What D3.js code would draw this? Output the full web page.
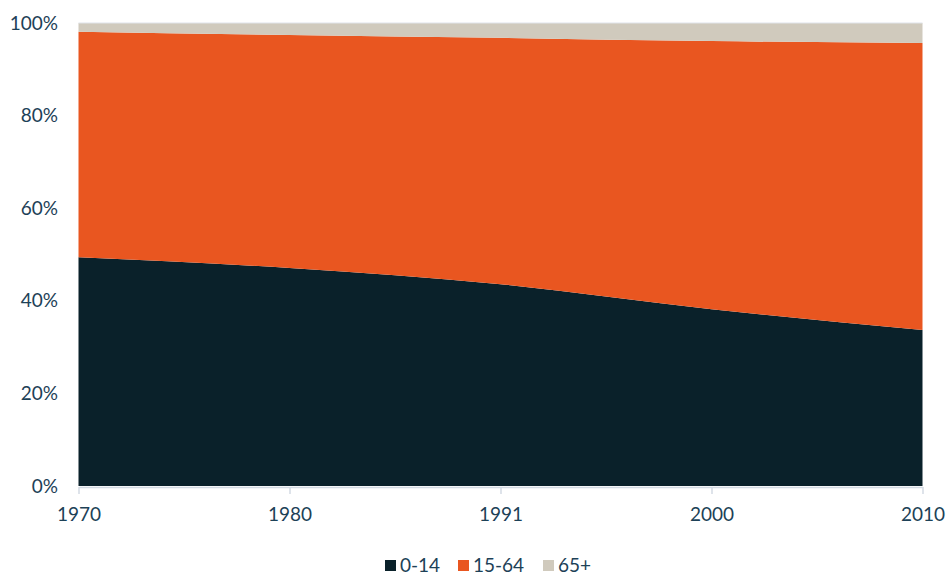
<!DOCTYPE html>
<html>
<head>
<meta charset="utf-8">
<script src="https://cdn.jsdelivr.net/npm/d3@7"></script>
<style>
  html, body { margin: 0; padding: 0; background: #fff; }
  svg text { font-family: Lato, "Open Sans", sans-serif; fill: #1d4157; }
</style>
</head>
<body>
<svg id="chart" width="949" height="575"></svg>
<script>
// Population share by age group (%)
const years = ["1970", "1980", "1991", "2000", "2010"];
const age0to14 = [49.4, 47.1, 43.6, 38.2, 33.7];
const age15to64 = [48.7, 50.3, 53.2, 57.9, 62.0];
const age65plus = [1.9, 2.6, 3.2, 3.9, 4.3];
const seriesNames = ["0-14", "15-64", "65+"];
const seriesColors = ["#0a212a", "#e95620", "#d0cabd"];
const yTicks = [0, 20, 40, 60, 80, 100];

const rows = years.map((y, i) => ({
  year: y, "0-14": age0to14[i], "15-64": age15to64[i], "65+": age65plus[i]
}));

const svg = d3.select("#chart");
const margin = { left: 78.5, right: 26.5, top: 23, bottom: 89 };
const W = 949, H = 575;

const x = d3.scalePoint().domain(years).range([margin.left, W - margin.right]);
const y = d3.scaleLinear().domain([0, 100]).range([H - margin.bottom, margin.top]);

const stack = d3.stack().keys(seriesNames);
const layers = stack(rows);

const area = d3.area()
  .x(d => x(d.data.year))
  .y0(d => y(d[0]))
  .y1(d => y(d[1]))
  .curve(d3.curveMonotoneX);

svg.append("g").selectAll("path")
  .data(layers)
  .join("path")
  .attr("d", area)
  .attr("fill", (d, i) => seriesColors[i]);

// faint top gridline
svg.append("line")
  .attr("x1", x.range()[0]).attr("x2", x.range()[1])
  .attr("y1", y(100)).attr("y2", y(100))
  .attr("stroke", "#dfe3ea").attr("stroke-width", 1);

// y axis labels
svg.append("g").selectAll("text")
  .data(yTicks)
  .join("text")
  .attr("x", 58)
  .attr("y", d => y(d))
  .attr("dy", "0.35em")
  .attr("text-anchor", "end")
  .attr("font-size", 19)
  .text(d => d + "%");

// x axis
const xAxis = svg.append("g")
  .attr("transform", `translate(0,${y(0) + 1})`)
  .call(d3.axisBottom(x).tickSize(7).tickSizeOuter(0).tickPadding(14));
xAxis.select(".domain").attr("stroke", "#d3dae3").attr("stroke-width", 1.5);
xAxis.selectAll(".tick line").attr("stroke", "#d3dae3").attr("stroke-width", 1.5);
xAxis.selectAll(".tick text")
  .attr("font-size", 19)
  .attr("fill", "#1d4157")
  .style("font-family", "Lato, 'Open Sans', sans-serif");

// legend
const legendItems = [
  { name: seriesNames[0], x: 385 },
  { name: seriesNames[1], x: 458 },
  { name: seriesNames[2], x: 543 }
];
const lg = svg.append("g").selectAll("g")
  .data(legendItems)
  .join("g")
  .attr("transform", d => `translate(${d.x},560)`);
lg.append("rect")
  .attr("width", 11).attr("height", 11)
  .attr("fill", (d, i) => seriesColors[i]);
lg.append("text")
  .attr("x", 15).attr("y", 5.5)
  .attr("dy", "0.35em")
  .attr("font-size", 19)
  .text(d => d.name);
</script>
</body>
</html>
